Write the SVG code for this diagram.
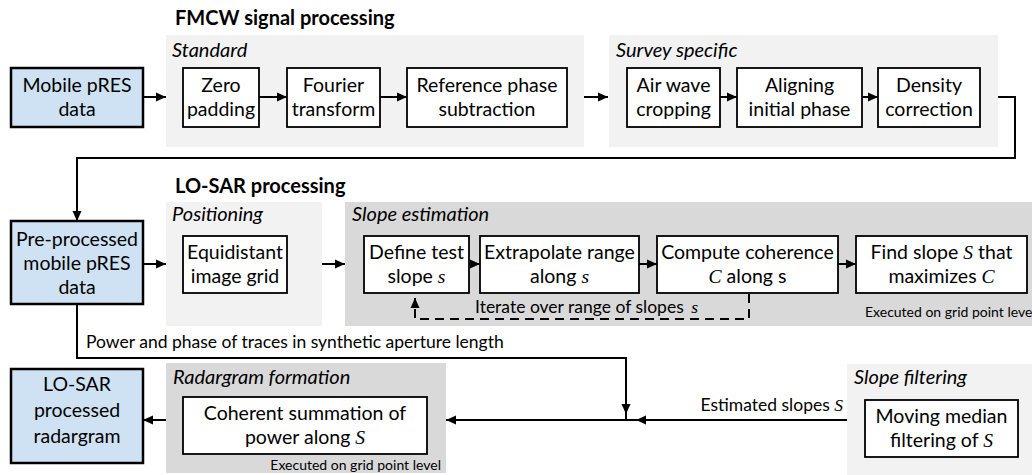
<svg xmlns="http://www.w3.org/2000/svg" width="1032" height="475" viewBox="0 0 1032 475">
<style>
.box{fill:#fff;stroke:#000;stroke-width:1.8}
.blue{fill:#cfe2f3;stroke:#000;stroke-width:2.5}
.p1{fill:#f2f2f2}
.p2{fill:#d9d9d9}
text{font-family:Lato,"Liberation Sans",sans-serif;fill:#000}
.t{font-size:19.5px;text-anchor:middle}
.h{font-size:20px;font-weight:bold}
.i{font-size:20px;font-style:italic}
.s{font-size:17.5px}
.x{font-size:14px}
.m{font-family:"Liberation Serif",serif;font-style:italic}
.c{stroke:#000;stroke-width:2;fill:none}
.d{stroke:#000;stroke-width:2;fill:none;stroke-dasharray:9,6}
</style>
<defs>
<marker id="a" markerUnits="userSpaceOnUse" markerWidth="10" markerHeight="10" refX="10" refY="5" orient="auto">
<path d="M0,0.5 L10,5 L0,9.5 z" fill="#000"/>
</marker>
</defs>

<text class="h" x="175" y="25">FMCW signal processing</text>
<text class="h" x="175" y="193">LO-SAR processing</text>

<g id="panel-standard"><rect class="p1" x="166" y="35" width="418" height="112"/><text class="i" x="172" y="57">Standard</text></g>
<g id="panel-survey"><rect class="p1" x="609" y="35" width="389" height="112"/><text class="i" x="616" y="57">Survey specific</text></g>
<g id="panel-positioning"><rect class="p1" x="166" y="202" width="156" height="124"/><text class="i" x="172" y="221">Positioning</text></g>
<g id="panel-slope"><rect class="p2" x="345" y="202" width="690" height="124"/><text class="i" x="352" y="221">Slope estimation</text><text class="x" x="865" y="317">Executed on grid point level</text></g>
<g id="panel-radargram"><rect class="p2" x="166" y="363" width="280" height="110"/><text class="i" x="173" y="384">Radargram formation</text><text class="x" x="441" y="470" text-anchor="end">Executed on grid point level</text></g>
<g id="panel-filter"><rect class="p1" x="847" y="364" width="190" height="115"/><text class="i" x="854" y="384">Slope filtering</text></g>

<g id="n-mobile"><rect class="blue" x="11" y="68" width="132" height="59"/><text class="t" x="77" y="92">Mobile pRES</text><text class="t" x="77" y="116">data</text></g>
<g id="n-zero"><rect class="box" x="183" y="68" width="76" height="59"/><text class="t" x="221" y="92">Zero</text><text class="t" x="221" y="116">padding</text></g>
<g id="n-fourier"><rect class="box" x="287" y="68" width="93" height="59"/><text class="t" x="333.5" y="92">Fourier</text><text class="t" x="333.5" y="116">transform</text></g>
<g id="n-refphase"><rect class="box" x="407" y="68" width="160" height="59"/><text class="t" x="487" y="92">Reference phase</text><text class="t" x="487" y="116">subtraction</text></g>
<g id="n-airwave"><rect class="box" x="627" y="68" width="93" height="59"/><text class="t" x="673.5" y="92">Air wave</text><text class="t" x="673.5" y="116">cropping</text></g>
<g id="n-align"><rect class="box" x="737" y="68" width="125" height="59"/><text class="t" x="799.5" y="92">Aligning</text><text class="t" x="799.5" y="116">initial phase</text></g>
<g id="n-density"><rect class="box" x="878" y="68" width="102" height="59"/><text class="t" x="929" y="92">Density</text><text class="t" x="929" y="116">correction</text></g>

<g id="n-preproc"><rect class="blue" x="11" y="221" width="132" height="83"/><text class="t" x="77" y="246">Pre-processed</text><text class="t" x="77" y="270">mobile pRES</text><text class="t" x="77" y="294">data</text></g>
<g id="n-grid"><rect class="box" x="183" y="236" width="104" height="57"/><text class="t" x="235" y="259">Equidistant</text><text class="t" x="235" y="283">image grid</text></g>
<g id="n-define"><rect class="box" x="364" y="236" width="105" height="57"/><text class="t" x="416.5" y="259">Define test</text><text class="t" x="416.5" y="283">slope <tspan class="m">s</tspan></text></g>
<g id="n-extrap"><rect class="box" x="480" y="236" width="159" height="57"/><text class="t" x="559.5" y="259">Extrapolate range</text><text class="t" x="559.5" y="283">along <tspan class="m">s</tspan></text></g>
<g id="n-coh"><rect class="box" x="657" y="236" width="181" height="57"/><text class="t" x="747.5" y="259">Compute coherence</text><text class="t" x="747.5" y="283"><tspan class="m">C</tspan> along s</text></g>
<g id="n-find"><rect class="box" x="856" y="236" width="171" height="57"/><text class="t" x="941.5" y="259">Find slope <tspan class="m">S</tspan> that</text><text class="t" x="941.5" y="283">maximizes <tspan class="m">C</tspan></text></g>

<g id="n-losar"><rect class="blue" x="11" y="369" width="132" height="94"/><text class="t" x="77" y="391">LO-SAR</text><text class="t" x="77" y="417">processed</text><text class="t" x="77" y="443">radargram</text></g>
<g id="n-coherent"><rect class="box" x="183" y="397" width="244" height="57"/><text class="t" x="305" y="420">Coherent summation of</text><text class="t" x="305" y="444">power along <tspan class="m">S</tspan></text></g>
<g id="n-median"><rect class="box" x="865" y="400" width="153" height="57"/><text class="t" x="941.5" y="423">Moving median</text><text class="t" x="941.5" y="447">filtering of <tspan class="m">S</tspan></text></g>

<g id="connectors">
<path class="c" d="M143,97 H166" marker-end="url(#a)"/>
<path class="c" d="M259,97 H287" marker-end="url(#a)"/>
<path class="c" d="M380,97 H407" marker-end="url(#a)"/>
<path class="c" d="M584,97 H608" marker-end="url(#a)"/>
<path class="c" d="M720,97 H737" marker-end="url(#a)"/>
<path class="c" d="M862,97 H878" marker-end="url(#a)"/>
<path class="c" d="M998,97 H1015 V158 H77 V221" marker-end="url(#a)"/>
<path class="c" d="M143,264 H166" marker-end="url(#a)"/>
<path class="c" d="M322,264 H345" marker-end="url(#a)"/>
<path class="c" d="M469,264 H480" marker-end="url(#a)"/>
<path class="c" d="M639,264 H657" marker-end="url(#a)"/>
<path class="c" d="M838,264 H856" marker-end="url(#a)"/>
<path class="d" d="M749,294 V319 H415 V306"/>
<path class="c" d="M415,308 V298" marker-end="url(#a)"/>
<text class="s" x="475" y="313">Iterate over range of slopes <tspan class="m" dx="3">s</tspan></text>
<path class="c" d="M77,304 V358 H626 V414" marker-end="url(#a)"/>
<path class="c" d="M626,412 V420"/>
<path class="c" d="M847,420 H636" marker-end="url(#a)"/>
<path class="c" d="M637,420 H446" marker-end="url(#a)"/>
<path class="c" d="M166,420 H143" marker-end="url(#a)"/>
<text class="s" x="86" y="348">Power and phase of traces in synthetic aperture length</text>
<text class="s" x="843" y="411" text-anchor="end">Estimated slopes <tspan class="m">S</tspan></text>
</g>
</svg>
